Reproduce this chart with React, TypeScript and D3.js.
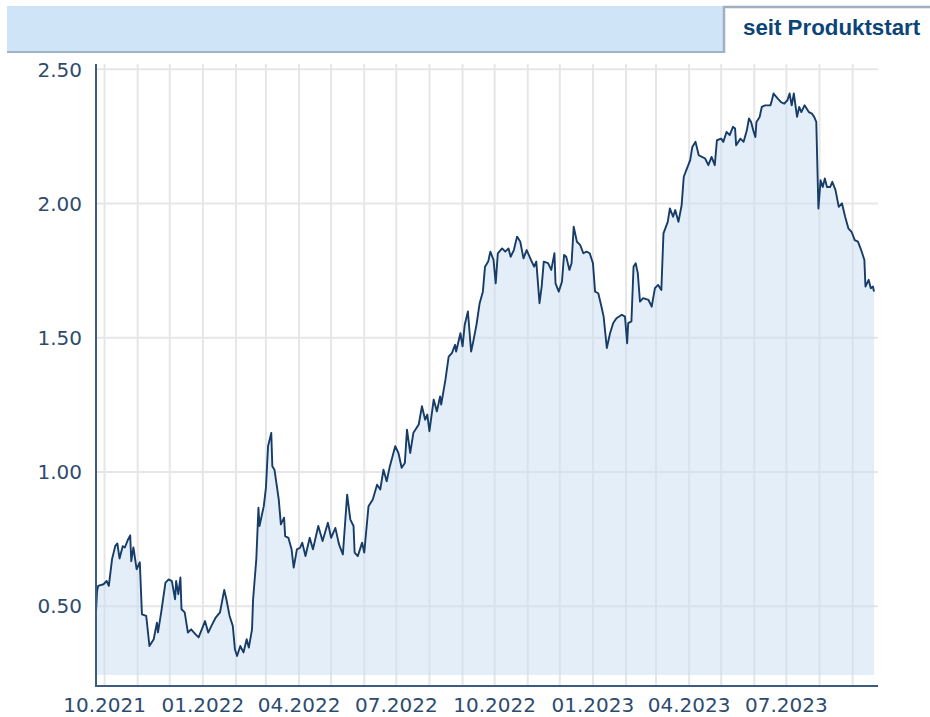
import React, { useRef, useEffect } from 'react';
import * as d3 from 'd3';

type Point = [string, number];

// Kursverlauf, gelesen aus dem Bild, pro Quartal
const q3_2021: Point[] = [
  ["2021-09-23", 0.478], ["2021-09-24", 0.557], ["2021-09-25", 0.576], ["2021-09-30", 0.582],
];
const q4_2021: Point[] = [
  ["2021-10-03", 0.594], ["2021-10-05", 0.576], ["2021-10-08", 0.675], ["2021-10-11", 0.724],
  ["2021-10-13", 0.734], ["2021-10-15", 0.678], ["2021-10-18", 0.724], ["2021-10-20", 0.719],
  ["2021-10-23", 0.749], ["2021-10-25", 0.764], ["2021-10-26", 0.668], ["2021-10-28", 0.719],
  ["2021-10-31", 0.638], ["2021-11-03", 0.664], ["2021-11-05", 0.470], ["2021-11-09", 0.464],
  ["2021-11-12", 0.352], ["2021-11-16", 0.377], ["2021-11-19", 0.439], ["2021-11-20", 0.403],
  ["2021-11-23", 0.477], ["2021-11-27", 0.588], ["2021-11-30", 0.600], ["2021-12-03", 0.594],
  ["2021-12-06", 0.526], ["2021-12-07", 0.594], ["2021-12-09", 0.545], ["2021-12-11", 0.607],
  ["2021-12-12", 0.489], ["2021-12-15", 0.477], ["2021-12-18", 0.402], ["2021-12-21", 0.414],
  ["2021-12-25", 0.396], ["2021-12-28", 0.384], ["2021-12-31", 0.414],
];
const q1_2022: Point[] = [
  ["2022-01-03", 0.445], ["2022-01-06", 0.402], ["2022-01-09", 0.427], ["2022-01-13", 0.458],
  ["2022-01-17", 0.477], ["2022-01-21", 0.561], ["2022-01-23", 0.526], ["2022-01-26", 0.464],
  ["2022-01-29", 0.427], ["2022-01-31", 0.340], ["2022-02-02", 0.315], ["2022-02-05", 0.352],
  ["2022-02-08", 0.328], ["2022-02-11", 0.377], ["2022-02-13", 0.346], ["2022-02-16", 0.414],
  ["2022-02-17", 0.526], ["2022-02-20", 0.675], ["2022-02-22", 0.867], ["2022-02-23", 0.799],
  ["2022-02-27", 0.873], ["2022-03-01", 0.941], ["2022-03-03", 1.096], ["2022-03-06", 1.146],
  ["2022-03-07", 1.022], ["2022-03-09", 1.009], ["2022-03-13", 0.898], ["2022-03-15", 0.805],
  ["2022-03-18", 0.830], ["2022-03-19", 0.761], ["2022-03-22", 0.755], ["2022-03-25", 0.712],
  ["2022-03-27", 0.644], ["2022-03-30", 0.712],
];
const q2_2022: Point[] = [
  ["2022-04-02", 0.718], ["2022-04-04", 0.737], ["2022-04-07", 0.687], ["2022-04-11", 0.755],
  ["2022-04-14", 0.712], ["2022-04-19", 0.799], ["2022-04-23", 0.743], ["2022-04-28", 0.811],
  ["2022-05-01", 0.755], ["2022-05-05", 0.792], ["2022-05-08", 0.737], ["2022-05-09", 0.724],
  ["2022-05-12", 0.693], ["2022-05-16", 0.916], ["2022-05-19", 0.823], ["2022-05-22", 0.799],
  ["2022-05-23", 0.700], ["2022-05-26", 0.687], ["2022-05-30", 0.737], ["2022-06-01", 0.700],
  ["2022-06-05", 0.873], ["2022-06-09", 0.898], ["2022-06-13", 0.953], ["2022-06-16", 0.935],
  ["2022-06-19", 1.009], ["2022-06-22", 0.966], ["2022-06-25", 1.022], ["2022-06-30", 1.096],
];
const q3_2022: Point[] = [
  ["2022-07-03", 1.071], ["2022-07-06", 1.016], ["2022-07-09", 1.034], ["2022-07-11", 1.158],
  ["2022-07-14", 1.071], ["2022-07-17", 1.146], ["2022-07-22", 1.177], ["2022-07-25", 1.245],
  ["2022-07-28", 1.195], ["2022-07-30", 1.214], ["2022-08-01", 1.152], ["2022-08-05", 1.270],
  ["2022-08-08", 1.226], ["2022-08-11", 1.282], ["2022-08-12", 1.251], ["2022-08-16", 1.344],
  ["2022-08-19", 1.430], ["2022-08-22", 1.443], ["2022-08-25", 1.474], ["2022-08-26", 1.449],
  ["2022-08-30", 1.517], ["2022-09-01", 1.468], ["2022-09-03", 1.548], ["2022-09-06", 1.598],
  ["2022-09-09", 1.449], ["2022-09-11", 1.486], ["2022-09-14", 1.548], ["2022-09-17", 1.629],
  ["2022-09-20", 1.672], ["2022-09-22", 1.765], ["2022-09-25", 1.784], ["2022-09-27", 1.821],
  ["2022-09-30", 1.790],
];
const q4_2022: Point[] = [
  ["2022-10-02", 1.703], ["2022-10-04", 1.815], ["2022-10-08", 1.833], ["2022-10-11", 1.821],
  ["2022-10-14", 1.833], ["2022-10-16", 1.802], ["2022-10-19", 1.827], ["2022-10-22", 1.877],
  ["2022-10-25", 1.858], ["2022-10-28", 1.796], ["2022-10-31", 1.827], ["2022-11-04", 1.790],
  ["2022-11-07", 1.765], ["2022-11-09", 1.784], ["2022-11-12", 1.629], ["2022-11-14", 1.691],
  ["2022-11-16", 1.784], ["2022-11-20", 1.778], ["2022-11-23", 1.753], ["2022-11-26", 1.815],
  ["2022-11-27", 1.703], ["2022-11-30", 1.672], ["2022-12-03", 1.709], ["2022-12-05", 1.809],
  ["2022-12-07", 1.802], ["2022-12-10", 1.753], ["2022-12-12", 1.778], ["2022-12-14", 1.914],
  ["2022-12-17", 1.858], ["2022-12-20", 1.846], ["2022-12-23", 1.815], ["2022-12-26", 1.821],
  ["2022-12-29", 1.815],
];
const q1_2023: Point[] = [
  ["2023-01-01", 1.778], ["2023-01-03", 1.672], ["2023-01-06", 1.666], ["2023-01-09", 1.616],
  ["2023-01-11", 1.579], ["2023-01-14", 1.462], ["2023-01-17", 1.517], ["2023-01-20", 1.555],
  ["2023-01-23", 1.573], ["2023-01-28", 1.586], ["2023-01-31", 1.579], ["2023-02-02", 1.480],
  ["2023-02-03", 1.555], ["2023-02-06", 1.561], ["2023-02-08", 1.765], ["2023-02-10", 1.778],
  ["2023-02-12", 1.740], ["2023-02-14", 1.635], ["2023-02-17", 1.648], ["2023-02-22", 1.641],
  ["2023-02-25", 1.616], ["2023-02-28", 1.685], ["2023-03-03", 1.697], ["2023-03-06", 1.678],
  ["2023-03-08", 1.889], ["2023-03-12", 1.932], ["2023-03-14", 1.982], ["2023-03-17", 1.951],
  ["2023-03-19", 1.976], ["2023-03-22", 1.932], ["2023-03-25", 1.994], ["2023-03-27", 2.100],
  ["2023-03-30", 2.131],
];
const q2_2023: Point[] = [
  ["2023-04-02", 2.162], ["2023-04-04", 2.211], ["2023-04-07", 2.230], ["2023-04-10", 2.180],
  ["2023-04-13", 2.174], ["2023-04-16", 2.168], ["2023-04-19", 2.143], ["2023-04-22", 2.174],
  ["2023-04-25", 2.143], ["2023-04-27", 2.236], ["2023-05-01", 2.242], ["2023-05-03", 2.230],
  ["2023-05-06", 2.267], ["2023-05-09", 2.255], ["2023-05-12", 2.286], ["2023-05-14", 2.280],
  ["2023-05-15", 2.217], ["2023-05-19", 2.242], ["2023-05-22", 2.230], ["2023-05-25", 2.273],
  ["2023-05-27", 2.317], ["2023-05-29", 2.304], ["2023-05-31", 2.273], ["2023-06-02", 2.248],
  ["2023-06-03", 2.304], ["2023-06-06", 2.323], ["2023-06-08", 2.360], ["2023-06-11", 2.366],
  ["2023-06-16", 2.366], ["2023-06-17", 2.378], ["2023-06-19", 2.410], ["2023-06-23", 2.391],
  ["2023-06-26", 2.378], ["2023-06-29", 2.372],
];
const q3_2023: Point[] = [
  ["2023-07-02", 2.385], ["2023-07-04", 2.410], ["2023-07-06", 2.366], ["2023-07-08", 2.410],
  ["2023-07-11", 2.323], ["2023-07-13", 2.360], ["2023-07-15", 2.341], ["2023-07-18", 2.366],
  ["2023-07-22", 2.341], ["2023-07-25", 2.335], ["2023-07-27", 2.323], ["2023-07-29", 2.304],
  ["2023-07-31", 1.982], ["2023-08-02", 2.087], ["2023-08-04", 2.062], ["2023-08-06", 2.094],
  ["2023-08-08", 2.062], ["2023-08-11", 2.062], ["2023-08-13", 2.081], ["2023-08-16", 2.050],
  ["2023-08-19", 1.988], ["2023-08-22", 2.001], ["2023-08-25", 1.951], ["2023-08-28", 1.908],
  ["2023-08-31", 1.895], ["2023-09-03", 1.864], ["2023-09-06", 1.858], ["2023-09-09", 1.827],
  ["2023-09-12", 1.790], ["2023-09-13", 1.691], ["2023-09-16", 1.716], ["2023-09-18", 1.685],
  ["2023-09-20", 1.691], ["2023-09-21", 1.672],
];

const yTicks = [0.5, 1.0, 1.5, 2.0, 2.5];
const xLabelDates = ["2021-10-01", "2022-01-01", "2022-04-01", "2022-07-01", "2022-10-01", "2023-01-01", "2023-04-01", "2023-07-01"];
const xDomain = ["2021-09-23", "2023-09-21"];
const gridRange = ["2021-10-01", "2023-10-01"];
const yDomain = [0.244, 2.52];
const tabLabel = "seit Produktstart";

const App: React.FC = () => {
  const svgRef = useRef<SVGSVGElement>(null);

  useEffect(() => {
    if (!svgRef.current) return;
    const svg = d3.select(svgRef.current);
    svg.selectAll("*").remove();

    const parse = d3.timeParse("%Y-%m-%d");
    const data = [...q3_2021, ...q4_2021, ...q1_2022, ...q2_2022, ...q3_2022, ...q4_2022, ...q1_2023, ...q2_2023, ...q3_2023]
      .map(([d, v]) => ({ date: parse(d) as Date, value: v }));

    const left = 96, right = 874, top = 64, bottom = 675, axisY = 686, axisRight = 878;

    const x = d3.scaleTime()
      .domain(xDomain.map(d => parse(d) as Date))
      .range([left, right]);
    const y = d3.scaleLinear()
      .domain(yDomain)
      .range([bottom, top]);

    // header bar + tab
    svg.append("rect").attr("x", 7).attr("y", 6).attr("width", 717).attr("height", 46).attr("fill", "#cfe5f7");
    svg.append("line").attr("x1", 7).attr("x2", 725).attr("y1", 52).attr("y2", 52)
      .attr("stroke", "#9fb4c8").attr("stroke-width", 2);
    svg.append("path").attr("d", "M724,53V7H930")
      .attr("fill", "none").attr("stroke", "#9fb0c2").attr("stroke-width", 2.5);
    svg.append("text").attr("x", 743).attr("y", 35)
      .style("font-family", "'Liberation Sans', Arial, sans-serif")
      .style("font-weight", "bold").style("font-size", "22.3px")
      .attr("fill", "#0b4477").text(tabLabel);

    // grid
    const grid = svg.append("g").attr("stroke", "#e6e6e6").attr("stroke-width", 2);
    const months = d3.timeMonth.range(parse(gridRange[0]) as Date, parse(gridRange[1]) as Date);
    grid.selectAll("line.v").data(months).enter().append("line")
      .attr("x1", d => x(d)).attr("x2", d => x(d)).attr("y1", top).attr("y2", axisY);
    grid.selectAll("line.h").data(yTicks).enter().append("line")
      .attr("x1", left).attr("x2", axisRight).attr("y1", d => y(d)).attr("y2", d => y(d));

    // area + line
    const area = d3.area<{ date: Date; value: number }>()
      .x(d => x(d.date)).y0(bottom).y1(d => y(d.value));
    const line = d3.line<{ date: Date; value: number }>()
      .x(d => x(d.date)).y(d => y(d.value));

    svg.append("path").datum(data).attr("d", area)
      .attr("fill", "#c7ddf3").attr("fill-opacity", 0.5);
    svg.append("path").datum(data).attr("d", line)
      .attr("fill", "none").attr("stroke", "#173c68").attr("stroke-width", 1.9)
      .attr("stroke-linejoin", "round");

    // axes
    svg.append("line").attr("x1", left).attr("x2", left).attr("y1", top).attr("y2", axisY + 1)
      .attr("stroke", "#3c5b80").attr("stroke-width", 2);
    svg.append("line").attr("x1", left).attr("x2", axisRight).attr("y1", axisY).attr("y2", axisY)
      .attr("stroke", "#3c5b80").attr("stroke-width", 2);

    const labelFont = "'DejaVu Sans', Verdana, sans-serif";
    svg.append("g").selectAll("text").data(yTicks).enter().append("text")
      .attr("x", 82).attr("y", d => y(d)).attr("dy", "0.36em")
      .attr("text-anchor", "end")
      .style("font-family", labelFont).style("font-size", "20px")
      .attr("fill", "#2d4b6e")
      .text(d => d3.format(".2f")(d));

    svg.append("g").selectAll("text").data(xLabelDates).enter().append("text")
      .attr("x", d => x(parse(d) as Date)).attr("y", 712)
      .attr("text-anchor", "middle")
      .style("font-family", labelFont).style("font-size", "20px")
      .attr("fill", "#2d4b6e")
      .text(d => d3.timeFormat("%m.%Y")(parse(d) as Date));
  }, []);

  return (
    <div style={{ position: "absolute", left: 0, top: 0, width: 930, height: 717, background: "#fff" }}>
      <svg ref={svgRef} width={930} height={717}></svg>
    </div>
  );
};

export default App;
